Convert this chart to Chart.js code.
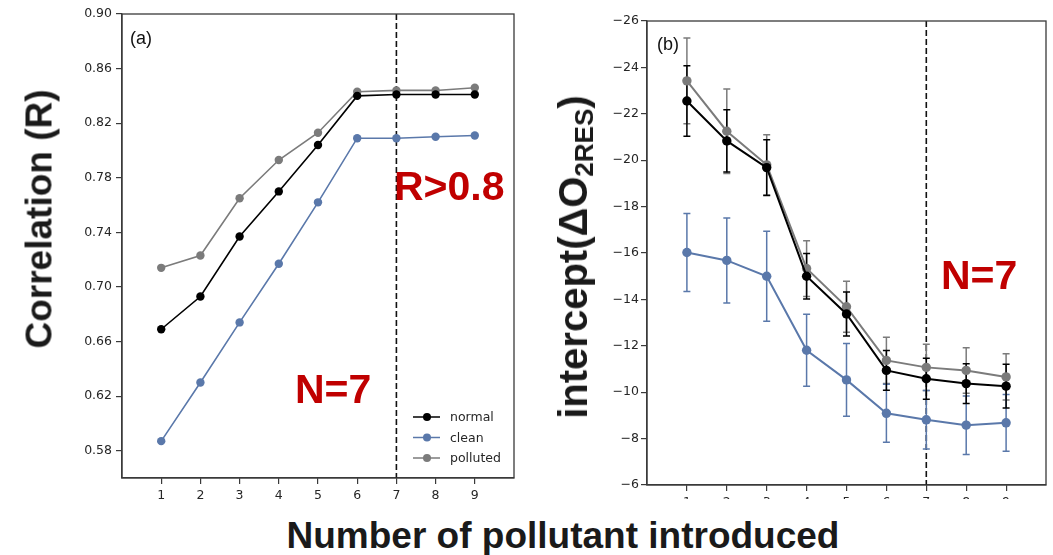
<!DOCTYPE html>
<html>
<head>
<meta charset="utf-8">
<script src="https://cdn.jsdelivr.net/npm/chart.js@4.4.0/dist/chart.umd.min.js"></script>
<style>
  body { margin: 0; background: #fff; width: 1053px; height: 555px; position: relative; overflow: hidden; }
  canvas { position: absolute; top: 0; }
  #corrChart { left: 0; }
  #icptChart { left: 560px; }
  .lbl { position: absolute; white-space: nowrap; line-height: 1; font-family: "Liberation Sans", Arial, sans-serif; }
  .big { font-weight: bold; color: #1a1a1a; }
  .red { font-weight: bold; color: #c00000; font-size: 41px; }
  .panel { font-size: 18px; color: #111; }
  .rot { transform: translate(-50%, -50%) rotate(-90deg); }
</style>
</head>
<body>
<canvas id="corrChart" width="530" height="505"></canvas>
<canvas id="icptChart" width="493" height="499"></canvas>

<div class="lbl big rot" style="font-size:37px; left:39px; top:219px;">Correlation (R)</div>
<div class="lbl big rot" style="font-size:40px; left:573px; top:257px;">intercept(ΔO<span style="font-size:26px; vertical-align:-6px; line-height:0;">2RES</span>)</div>
<div class="lbl big" style="font-size:37px; left:563px; top:517px; transform:translateX(-50%);">Number of pollutant introduced</div>

<div class="lbl panel" style="left:130px; top:29px;">(a)</div>
<div class="lbl panel" style="left:657px; top:35px;">(b)</div>
<div class="lbl red" style="left:394px; top:166px;">R&gt;0.8</div>
<div class="lbl red" style="left:295px; top:369px;">N=7</div>
<div class="lbl red" style="left:941px; top:255px;">N=7</div>

<script>
const xTicks = [1, 2, 3, 4, 5, 6, 7, 8, 9];
const seriesNames = ['normal', 'clean', 'polluted'];
const seriesColors = ['#000000', '#5a78aa', '#7b7b7b'];
const cutoffN = 7;

// (a) correlation vs number of pollutants
const corrNormal   = [0.669, 0.693, 0.737, 0.770, 0.804, 0.840, 0.841, 0.841, 0.841];
const corrClean    = [0.587, 0.630, 0.674, 0.717, 0.762, 0.809, 0.809, 0.810, 0.811];
const corrPolluted = [0.714, 0.723, 0.765, 0.793, 0.813, 0.843, 0.844, 0.844, 0.846];
const corrTicks = [0.58, 0.62, 0.66, 0.70, 0.74, 0.78, 0.82, 0.86, 0.90];

// (b) intercept with spread
const icptNormal      = [-22.55, -20.83, -19.68, -15.00, -13.37, -10.94, -10.58, -10.37, -10.26];
const icptNormalErr   = [1.52, 1.34, 1.20, 0.98, 0.95, 0.86, 0.88, 0.86, 0.94];
const icptClean       = [-16.02, -15.68, -15.00, -11.81, -10.53, -9.09, -8.81, -8.58, -8.68];
const icptCleanErr    = [1.68, 1.83, 1.94, 1.55, 1.57, 1.25, 1.26, 1.26, 1.22];
const icptPolluted    = [-23.42, -21.25, -19.80, -15.33, -13.68, -11.37, -11.07, -10.94, -10.66];
const icptPollutedErr = [1.85, 1.82, 1.30, 1.20, 1.10, 1.00, 1.00, 0.98, 1.00];
const icptTicks = [-26, -24, -22, -20, -18, -16, -14, -12, -10, -8, -6];

const tickFont = { family: 'DejaVu Sans', size: 12.5 };
const tickColor = '#262626';
const spineColor = '#3a3a3a';

function pts(values) {
  return values.map((v, i) => ({ x: xTicks[i], y: v }));
}

function series(values, idx, radius, width, errors) {
  return {
    label: seriesNames[idx],
    data: pts(values),
    errors: errors,
    borderColor: seriesColors[idx],
    backgroundColor: seriesColors[idx],
    pointBackgroundColor: seriesColors[idx],
    pointBorderWidth: 0,
    pointRadius: radius,
    borderWidth: width,
    fill: false,
    tension: 0
  };
}

const frame = {
  id: 'frame',
  afterDraw(chart) {
    const a = chart.chartArea, c = chart.ctx;
    c.save();
    c.strokeStyle = spineColor;
    c.lineWidth = 1.3;
    c.strokeRect(a.left, a.top, a.right - a.left, a.bottom - a.top);
    c.restore();
  }
};

const cutoffLine = {
  id: 'cutoffLine',
  beforeDatasetsDraw(chart) {
    const a = chart.chartArea, c = chart.ctx;
    const x = chart.scales.x.getPixelForValue(cutoffN);
    c.save();
    c.strokeStyle = '#111';
    c.lineWidth = 1.6;
    c.setLineDash([6, 3]);
    c.beginPath();
    c.moveTo(x, a.top);
    c.lineTo(x, a.bottom);
    c.stroke();
    c.restore();
  }
};

const errorBars = {
  id: 'errorBars',
  beforeDatasetsDraw(chart) {
    const c = chart.ctx, ys = chart.scales.y;
    // draw from last dataset to first so the first one ends on top
    for (let i = chart.data.datasets.length - 1; i >= 0; i--) {
      const ds = chart.data.datasets[i];
      if (!ds.errors) continue;
      const meta = chart.getDatasetMeta(i);
      c.save();
      c.strokeStyle = ds.borderColor;
      c.lineWidth = 1.5;
      meta.data.forEach((pt, j) => {
        const v = ds.data[j].y, e = ds.errors[j];
        const y1 = ys.getPixelForValue(v - e), y2 = ys.getPixelForValue(v + e);
        c.beginPath();
        c.moveTo(pt.x, y1); c.lineTo(pt.x, y2);
        c.moveTo(pt.x - 3.5, y1); c.lineTo(pt.x + 3.5, y1);
        c.moveTo(pt.x - 3.5, y2); c.lineTo(pt.x + 3.5, y2);
        c.stroke();
      });
      c.restore();
    }
  }
};

// small legend in the lower right corner of panel (a)
const cornerLegend = {
  id: 'cornerLegend',
  afterDraw(chart) {
    const a = chart.chartArea, c = chart.ctx;
    c.save();
    c.font = '12.5px "DejaVu Sans"';
    c.textBaseline = 'middle';
    chart.data.datasets.forEach((ds, i) => {
      const y = a.bottom - 61 + i * 20.5;
      const x0 = a.right - 101;
      c.strokeStyle = ds.borderColor;
      c.lineWidth = 1.5;
      c.beginPath();
      c.moveTo(x0, y); c.lineTo(x0 + 27, y);
      c.stroke();
      c.fillStyle = ds.borderColor;
      c.beginPath();
      c.arc(x0 + 14, y, 4, 0, Math.PI * 2);
      c.fill();
      c.fillStyle = tickColor;
      c.fillText(ds.label, a.right - 64, y + 1);
    });
    c.restore();
  }
};

function xAxis(height, pad) {
  return {
    type: 'linear', min: 0, max: 10,
    afterBuildTicks: s => { s.ticks = xTicks.map(v => ({ value: v })); },
    afterFit: s => { s.height = height; },
    grid: { drawOnChartArea: false, drawTicks: true, tickLength: 6, color: spineColor, lineWidth: 1.2 },
    border: { display: true, color: spineColor, width: 1.3 },
    ticks: { font: tickFont, color: tickColor, padding: pad, autoSkip: false, maxRotation: 0 }
  };
}

function yAxis(width, min, max, ticks, fmt, pad, reverse) {
  return {
    type: 'linear', min: min, max: max, reverse: reverse,
    afterBuildTicks: s => { s.ticks = ticks.map(v => ({ value: v })); },
    afterFit: s => { s.width = width; },
    grid: { drawOnChartArea: false, drawTicks: true, tickLength: 6, color: spineColor, lineWidth: 1.2 },
    border: { display: true, color: spineColor, width: 1.3 },
    ticks: { font: tickFont, color: tickColor, padding: pad, autoSkip: false, callback: fmt }
  };
}

new Chart(document.getElementById('corrChart'), {
  type: 'line',
  data: {
    datasets: [
      series(corrNormal, 0, 4.2, 1.6),
      series(corrClean, 1, 4.2, 1.6),
      series(corrPolluted, 2, 4.2, 1.6)
    ]
  },
  options: {
    responsive: false,
    animation: false,
    devicePixelRatio: 1,
    layout: { padding: { left: 0, right: 16, top: 14, bottom: 0 } },
    plugins: { legend: { display: false }, tooltip: { enabled: false } },
    scales: {
      x: xAxis(27, 4),
      y: yAxis(122, 0.56, 0.90, corrTicks, v => v.toFixed(2), 4, false)
    }
  },
  plugins: [cutoffLine, frame, cornerLegend]
});

new Chart(document.getElementById('icptChart'), {
  type: 'line',
  data: {
    datasets: [
      series(icptNormal, 0, 4.7, 2, icptNormalErr),
      series(icptClean, 1, 4.7, 2, icptCleanErr),
      series(icptPolluted, 2, 4.7, 2, icptPollutedErr)
    ]
  },
  options: {
    responsive: false,
    animation: false,
    devicePixelRatio: 1,
    layout: { padding: { left: 0, right: 7, top: 21, bottom: 0 } },
    plugins: { legend: { display: false }, tooltip: { enabled: false } },
    scales: {
      x: xAxis(14, 4),
      y: yAxis(87, -26, -6, icptTicks, v => (v < 0 ? '\u2212' : '') + Math.abs(v), 2, true)
    }
  },
  plugins: [cutoffLine, errorBars, frame]
});
</script>
</body>
</html>
